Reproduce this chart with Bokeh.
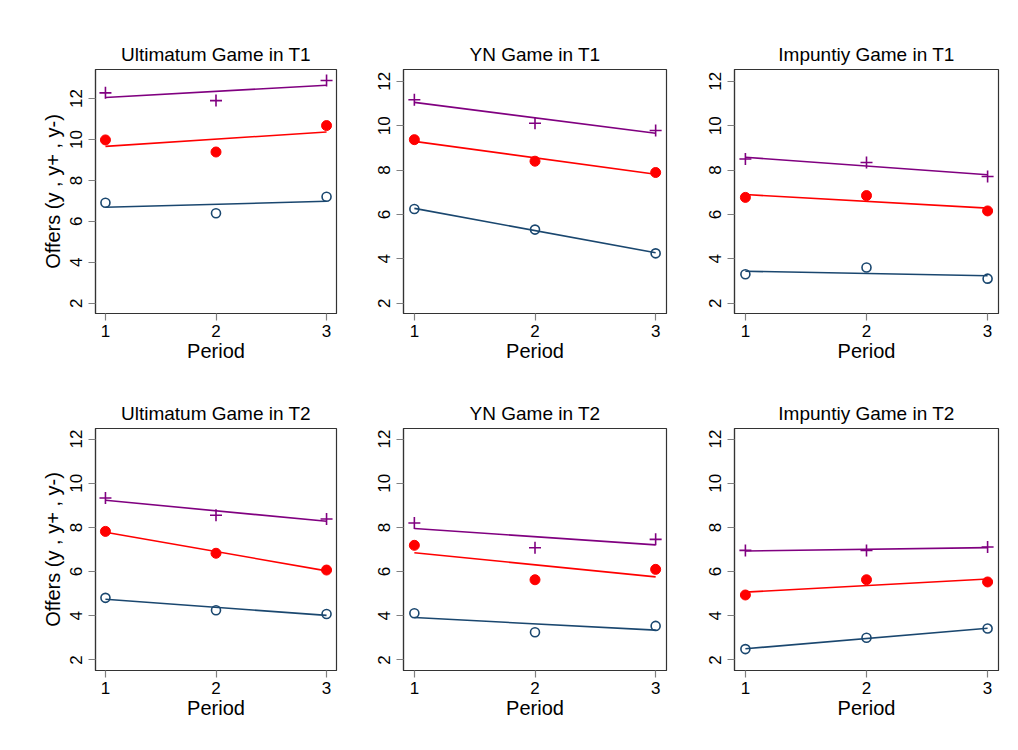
import numpy as np
from bokeh.plotting import figure
from bokeh.layouts import column, row
from bokeh.models import FixedTicker
from bokeh.embed import file_html
from bokeh.resources import INLINE

periods = [1, 2, 3]
titles = ["Ultimatum Game in T1", "YN Game in T1", "Impuntiy Game in T1",
          "Ultimatum Game in T2", "YN Game in T2", "Impuntiy Game in T2"]

# y+ (purple plus), y (red filled circle), y- (navy hollow circle)
ult_t1_yplus = [12.28, 11.90, 12.88]
ult_t1_y = [9.98, 9.39, 10.68]
ult_t1_yminus = [6.91, 6.40, 7.20]

yn_t1_yplus = [11.17, 10.11, 9.78]
yn_t1_y = [9.37, 8.40, 7.89]
yn_t1_yminus = [6.25, 5.32, 4.25]

imp_t1_yplus = [8.50, 8.34, 7.71]
imp_t1_y = [6.77, 6.85, 6.16]
imp_t1_yminus = [3.31, 3.61, 3.11]

ult_t2_yplus = [9.33, 8.55, 8.38]
ult_t2_y = [7.82, 6.83, 6.07]
ult_t2_yminus = [4.81, 4.25, 4.08]

yn_t2_yplus = [8.20, 7.08, 7.46]
yn_t2_y = [7.19, 5.63, 6.10]
yn_t2_yminus = [4.11, 3.25, 3.54]

imp_t2_yplus = [6.96, 6.96, 7.11]
imp_t2_y = [4.94, 5.63, 5.53]
imp_t2_yminus = [2.49, 3.00, 3.42]

panels = [
    (ult_t1_yplus, ult_t1_y, ult_t1_yminus),
    (yn_t1_yplus, yn_t1_y, yn_t1_yminus),
    (imp_t1_yplus, imp_t1_y, imp_t1_yminus),
    (ult_t2_yplus, ult_t2_y, ult_t2_yminus),
    (yn_t2_yplus, yn_t2_y, yn_t2_yminus),
    (imp_t2_yplus, imp_t2_y, imp_t2_yminus),
]

y_ticks = [2, 4, 6, 8, 10, 12]
x_ticks = [1, 2, 3]
y_ranges = [(1.5, 13.42), (1.54, 12.53), (1.54, 12.53),
            (1.52, 12.48), (1.52, 12.48), (1.52, 12.48)]

PURPLE = "#800080"
RED = "#ff0000"
NAVY = "#1a476f"
FONT = "Liberation Sans"

col_w = [345, 332, 333]
col_bl = [95, 58, 57]
col_br = [9, 11, 12]
row_h = [380, 362]
row_bt = [69, 48]
row_bb = [67, 72]

figs = []
for i, (yp, ym, yn) in enumerate(panels):
    r, c = divmod(i, 3)
    p = figure(width=col_w[c], height=row_h[r],
               x_range=(0.91, 3.09), y_range=y_ranges[i],
               output_backend="svg", toolbar_location=None,
               min_border_left=col_bl[c], min_border_right=col_br[c],
               min_border_top=row_bt[r], min_border_bottom=row_bb[r],
               title=titles[i])
    p.title.text_font = FONT
    p.title.text_font_size = "19px"
    p.title.text_font_style = "normal"
    p.title.align = "center"
    p.title.text_color = "black"
    p.grid.visible = False
    p.outline_line_color = "#333333"
    p.outline_line_width = 1.2
    p.background_fill_color = "white"
    p.border_fill_color = "white"

    for ax in (p.xaxis[0], p.yaxis[0]):
        ax.axis_line_color = "#333333"
        ax.axis_line_width = 1.2
        ax.major_tick_line_color = "#808080"
        ax.major_tick_line_width = 1.2
        ax.major_tick_out = 7
        ax.major_tick_in = 0
        ax.minor_tick_line_color = None
        ax.major_label_text_font = FONT
        ax.major_label_text_font_size = "17px"
        ax.major_label_text_color = "black"
        ax.axis_label_text_font = FONT
        ax.axis_label_text_font_size = "20px"
        ax.axis_label_text_font_style = "normal"
        ax.axis_label_text_color = "black"
    p.xaxis.ticker = FixedTicker(ticks=x_ticks)
    p.yaxis.ticker = FixedTicker(ticks=y_ticks)
    p.yaxis.major_label_orientation = "vertical"
    p.yaxis.major_label_standoff = 6
    p.xaxis.axis_label = "Period"
    p.xaxis.major_label_standoff = 4
    p.xaxis.axis_label_standoff = 0
    if c == 0:
        p.yaxis.axis_label = "Offers (y , y+ , y-)"
        p.yaxis.axis_label_standoff = 4

    xs = np.array(periods, dtype=float)
    for vals, color in ((yp, PURPLE), (ym, RED), (yn, NAVY)):
        b, a = np.polyfit(xs, np.array(vals), 1)
        p.line([xs[0], xs[-1]], [a + b * xs[0], a + b * xs[-1]],
               line_color=color, line_width=1.6)
    p.scatter(periods, yp, marker="cross", size=12, line_color=PURPLE, line_width=1.6)
    p.scatter(periods, ym, marker="circle", size=10, fill_color=RED, line_color=RED)
    p.scatter(periods, yn, marker="circle", size=9, fill_color=None,
              line_color=NAVY, line_width=1.6)
    figs.append(p)

layout = column(row(*figs[:3]), row(*figs[3:]))
open("out.html", "w").write(file_html(layout, INLINE))
